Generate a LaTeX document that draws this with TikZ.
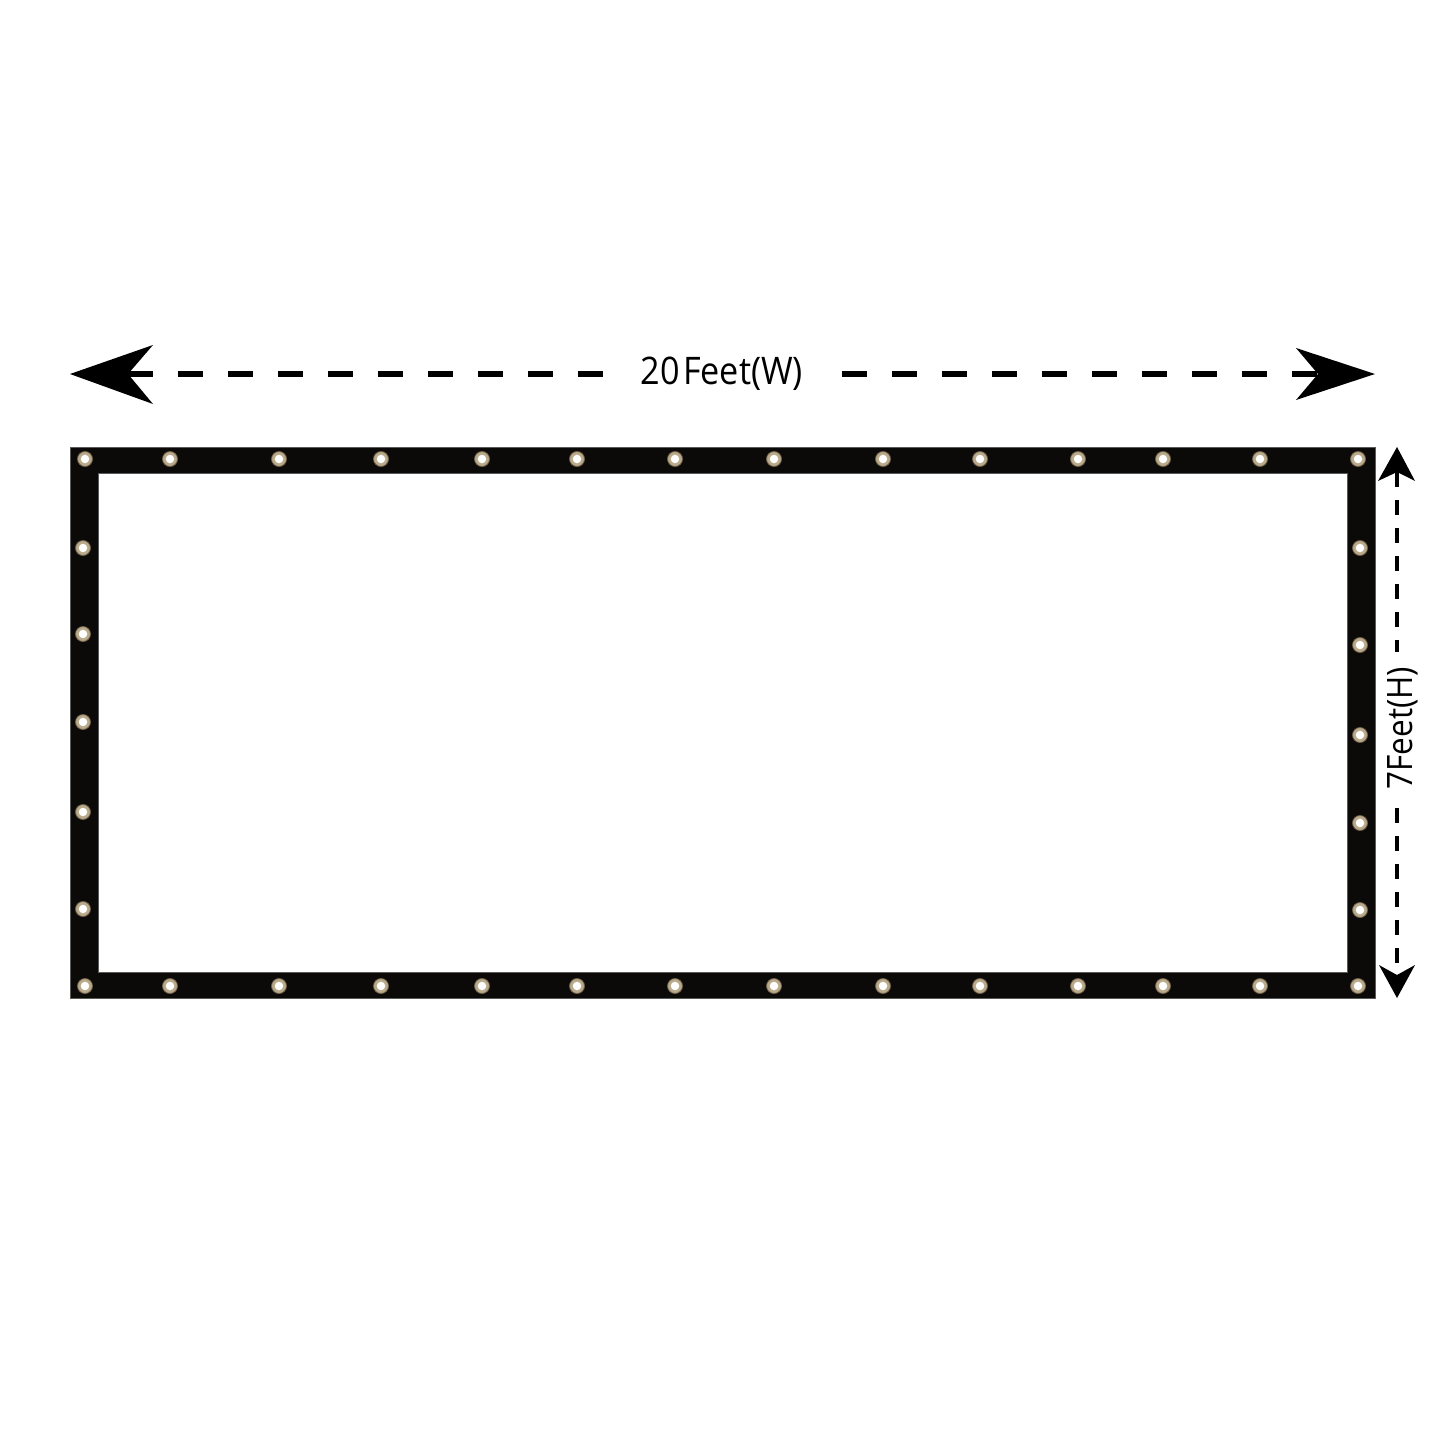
\documentclass[tikz,border=0pt]{standalone}
\usepackage{fontspec}
\setmainfont{Open Sans}[FakeStretch=0.9]
\begin{document}
\begin{tikzpicture}[x=1pt,y=-1pt,
  frame/.style={fill={rgb,255:red,12;green,10;blue,8}, draw={rgb,255:red,90;green,90;blue,90}, line width=1pt},
  grom/.style={circle, fill={rgb,255:red,185;green,170;blue,140}, draw={rgb,255:red,110;green,95;blue,70}, line width=0.8pt, minimum size=15pt, inner sep=0pt},
  gromin/.style={circle, fill=white, minimum size=8.5pt, inner sep=0pt},
  dimline/.style={line width=6pt, dash pattern=on 25pt off 25pt},
  dimvline/.style={line width=4.5pt, dash pattern=on 15pt off 13pt},
  head/.style={fill=black},
  lbl/.style={font=\fontsize{38}{42}\selectfont, inner sep=0pt},
  vlbl/.style={font=\fontsize{35}{40}\selectfont, inner sep=0pt, rotate=90}]
\useasboundingbox (0,0) rectangle (1445,1445);
\fill[white] (0,0) rectangle (1445,1445);
% frame
\path[frame,even odd rule] (70,447) rectangle (1375,998) (98,473) rectangle (1347,972);
% grommets
\foreach \x [count=\i] in {85,170,279,381,482,577,675,774,883,980,1078,1163,1260,1358}{
  \node[grom] (gt\i) at (\x,459) {}; \node[gromin] at (gt\i) {};
  \node[grom] (gb\i) at (\x,986) {}; \node[gromin] at (gb\i) {};
}
\foreach \y [count=\i] in {548,634,722,812,909}{
  \node[grom] (gl\i) at (83,\y) {}; \node[gromin] at (gl\i) {};
}
\foreach \y [count=\i] in {548,645,735,823,910}{
  \node[grom] (gr\i) at (1360,\y) {}; \node[gromin] at (gr\i) {};
}
% width dimension
\node[lbl] (w) at (722,374) {20\kern3pt Feet(W)};
\coordinate (wl) at (128,374);
\coordinate (wr) at (1318,374);
\coordinate (wla) at (612,374);
\coordinate (wrb) at (842,374);
\draw[dimline] (wl) -- (wla);
\draw[dimline] (wrb) -- (wr);
\fill[head] (70,374) -- (153,345) -- (wl) -- (153,404) -- cycle;
\fill[head] (1375,374) -- (1296,348) -- (wr) -- (1296,400) -- cycle;
% height dimension
\node[vlbl] (h) at (1403,728) {7Feet(H)};
\coordinate (ht) at (1397,472);
\coordinate (hb) at (1397,975);
\coordinate (hta) at (1397,652);
\coordinate (hbb) at (1397,808);
\draw[dimvline] (ht) -- (hta);
\draw[dimvline] (hbb) -- (hb);
\fill[head] (1397,447) -- (1415,481) -- (ht) -- (1378,481) -- cycle;
\fill[head] (1397,998) -- (1415,965) -- (hb) -- (1379,965) -- cycle;
\end{tikzpicture}
\end{document}
